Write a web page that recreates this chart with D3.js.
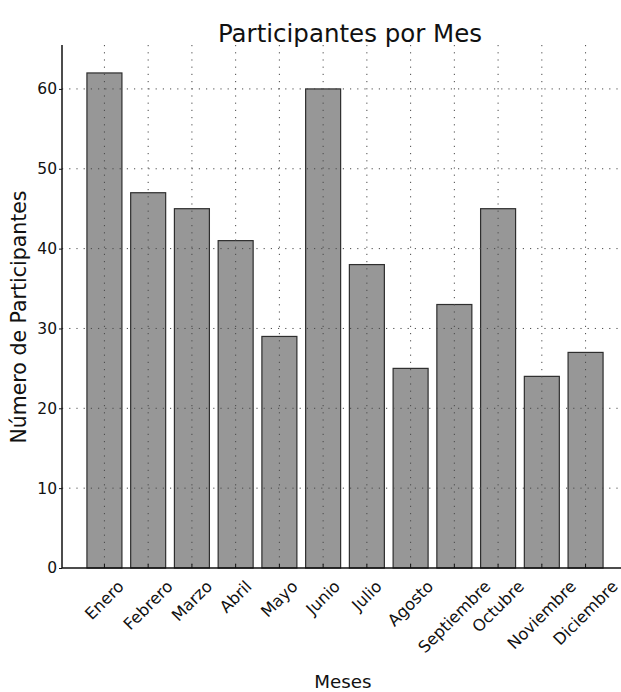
<!DOCTYPE html>
<html>
<head>
<meta charset="utf-8">
<script src="https://cdn.jsdelivr.net/npm/d3@7"></script>
<style>
  html, body { margin: 0; padding: 0; background: #fff; }
  svg { display: block; font-family: "DejaVu Sans", Verdana, sans-serif; }
</style>
</head>
<body>
<svg id="chart" width="621" height="692"></svg>
<script>
const months = ["Enero","Febrero","Marzo","Abril","Mayo","Junio","Julio","Agosto","Septiembre","Octubre","Noviembre","Diciembre"];
const participants = [62, 47, 45, 41, 29, 60, 38, 25, 33, 45, 24, 27];
const yTicks = [0, 10, 20, 30, 40, 50, 60];
const chartTitle = "Participantes por Mes";
const xTitle = "Meses";
const yTitle = "Número de Participantes";

(function () {
const svg = d3.select("#chart");
const W = 621, H = 692;
const mLeft = 62, mTop = 45, mBottom = 568, mRight = 628;

const x = d3.scaleBand().domain(months).range([mLeft, mRight]).paddingInner(0.2).paddingOuter(0.57);
const y = d3.scaleLinear().domain([0, 65]).range([mBottom, 49]);

// bars
svg.append("g").selectAll("rect").data(months).join("rect")
  .attr("x", d => x(d))
  .attr("y", (d, i) => y(participants[i]))
  .attr("width", x.bandwidth())
  .attr("height", (d, i) => y(0) - y(participants[i]))
  .attr("fill", "#979797")
  .attr("stroke", "#2e2e2e")
  .attr("stroke-width", 1.2);

// gridlines (drawn over bars, dotted)
const grid = svg.append("g").attr("stroke", "#4a4a4a").attr("stroke-width", 1).attr("stroke-dasharray", "1.2,6");
grid.selectAll("line.h").data(yTicks.filter(t => t > 0)).join("line").attr("class", "h")
  .attr("x1", mLeft).attr("x2", W).attr("y1", d => y(d)).attr("y2", d => y(d));
grid.selectAll("line.v").data(months).join("line").attr("class", "v")
  .attr("x1", d => x(d) + x.bandwidth() / 2).attr("x2", d => x(d) + x.bandwidth() / 2)
  .attr("y1", mTop).attr("y2", mBottom);

// y axis
const yAxis = svg.append("g").attr("transform", `translate(${mLeft},0)`)
  .call(d3.axisLeft(y).tickValues(yTicks).tickSize(3).tickPadding(2));
yAxis.select(".domain").attr("d", `M0,${mTop}V${mBottom}`).attr("stroke", "#111").attr("stroke-width", 1.5);
yAxis.selectAll("text").attr("font-size", 15.5).attr("fill", "#111").style("font-family", "DejaVu Sans");
yAxis.selectAll(".tick line").attr("stroke", "#111");

// x axis
const xAxis = svg.append("g").attr("transform", `translate(0,${mBottom})`)
  .call(d3.axisBottom(x).tickSize(4).tickFormat(""));
xAxis.select(".domain").attr("d", `M${mLeft},0H${W}`).attr("stroke", "#111").attr("stroke-width", 1.5);
xAxis.selectAll(".tick line").attr("stroke", "#111").attr("y2", -4);

// rotated month labels, centered on tick (rotated bbox top aligned)
const lblTop = mBottom + 11;
const lblSize = 16.3;
const lbls = svg.append("g").selectAll("text").data(months).join("text")
  .attr("font-size", lblSize).attr("fill", "#111")
  .attr("text-anchor", "middle").attr("dominant-baseline", "central")
  .text(d => d);
lbls.each(function(d) {
  const w = this.getComputedTextLength();
  const h = lblSize * 0.8;
  const cx = x(d) + x.bandwidth() / 2;
  const cy = lblTop + (w + h) * Math.SQRT1_2 / 2;
  d3.select(this).attr("transform", `translate(${cx},${cy}) rotate(-45)`);
});

// titles
svg.append("text").attr("x", 350).attr("y", 42).attr("text-anchor", "middle")
  .attr("font-size", 24.5).attr("fill", "#111").text(chartTitle);
svg.append("text").attr("x", 343).attr("y", 688).attr("text-anchor", "middle")
  .attr("font-size", 18.3).attr("fill", "#111").text(xTitle);
svg.append("text").attr("transform", `translate(26,317) rotate(-90)`).attr("text-anchor", "middle")
  .attr("font-size", 20.5).attr("fill", "#111").text(yTitle);
})();
</script>
</body>
</html>
